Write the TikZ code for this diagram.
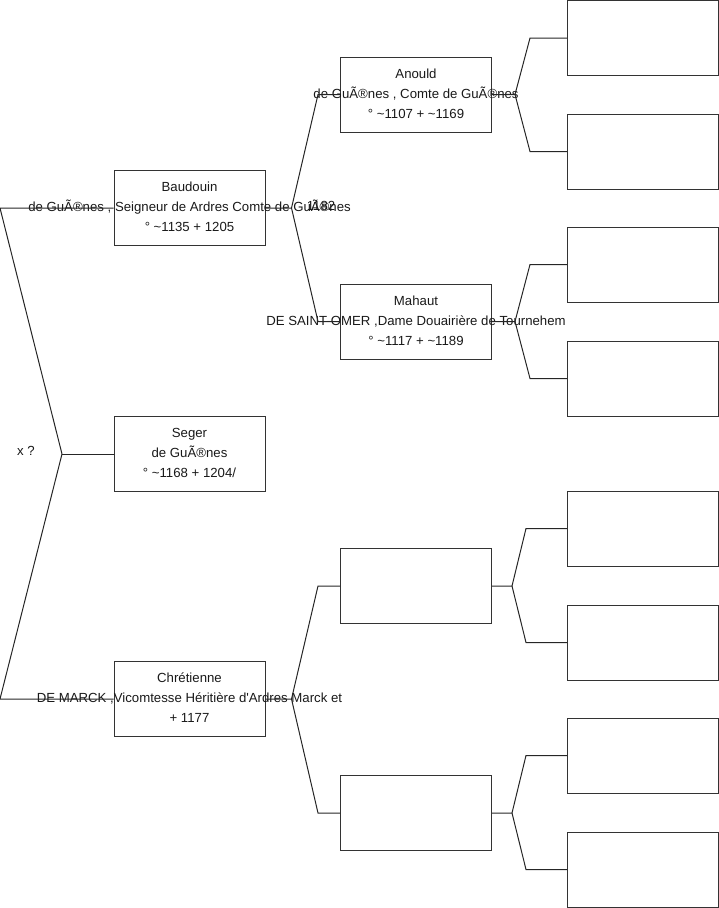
\documentclass[tikz,border=0pt]{standalone}
\usepackage{fontspec}
\setmainfont{Liberation Sans}
\usetikzlibrary{calc,positioning}

\begin{document}
\begin{tikzpicture}[
  x=1pt, y=-1pt,
  box/.style={draw=black!80, line width=1pt, minimum width=151pt, minimum height=75pt, inner sep=0pt},
  txt/.style={align=center, inner sep=0pt, text=black!90, font=\fontsize{13.2}{20}\selectfont},
  lnk/.style={draw=black!85, line width=1pt}
]
\useasboundingbox (0,0) rectangle (719,908);
% generation 1
\node[box] (baud) at (189.5,208) {};
\node[box] (seger) at (189.5,454) {};
\node[box] (chret) at (189.5,699) {};
% generation 2
\node[box] (anould) at (416,94.5) {};
\node[box] (mahaut) at (416,321.5) {};
\node[box] (chfa) at (416,586) {};
\node[box] (chmo) at (416,813) {};
% generation 3
\node[box] (an1) at (643,38) {};
\node[box] (an2) at (643,151.5) {};
\node[box] (ma1) at (643,264.5) {};
\node[box] (ma2) at (643,378.5) {};
\node[box] (cf1) at (643,528.5) {};
\node[box] (cf2) at (643,642.5) {};
\node[box] (cm1) at (643,755.5) {};
\node[box] (cm2) at (643,869.5) {};
% texts
\node[txt] (baudt) at ([yshift=1pt]baud) {Baudouin\\de GuÃ®nes , Seigneur de Ardres Comte de GuÃ®nes\\° \textasciitilde1135 + 1205};
\node[txt] (segert) at ([yshift=1pt]seger) {Seger\\de GuÃ®nes\\° \textasciitilde1168 + 1204/};
\node[txt] (chrett) at ([yshift=1pt]chret) {Chrétienne\\DE MARCK ,Vicomtesse Héritière d\textquotesingle Ardres Marck et\\+ 1177};
\node[txt] (anouldt) at ([yshift=1pt]anould) {Anould\\de GuÃ®nes , Comte de GuÃ®nes\\° \textasciitilde1107 + \textasciitilde1169};
\node[txt] (mahautt) at ([yshift=1pt]mahaut) {Mahaut\\DE SAINT-OMER ,Dame Douairière de Tournehem\\° \textasciitilde1117 + \textasciitilde1189};
\node[txt] (baudx) at (321,206) {1182};
% union of generation 1
\coordinate (xq) at (62,454);
\coordinate (xtop) at (0,208);
\coordinate (xbot) at (0,699);
\node[txt] (xqt) at (26,451) {x ?};
\draw[lnk] (seger.west) -- (xq);
\draw[lnk] (xq) -- (xtop) -- (baud.west);
\draw[lnk] (xq) -- (xbot) -- (chret.west);
% parents
\draw[lnk] (baud.east) -- ++(26,0) coordinate (fb) -- ([xshift=-22pt]anould.west) -- (anould.west);
\draw[lnk] (fb) -- ([xshift=-22pt]mahaut.west) -- (mahaut.west);
\draw[lnk] (chret.east) -- ++(26,0) coordinate (fc) -- ([xshift=-22pt]chfa.west) -- (chfa.west);
\draw[lnk] (fc) -- ([xshift=-22pt]chmo.west) -- (chmo.west);
% grandparents
\draw[lnk] (anould.east) -- ++(23,0) coordinate (fa) -- ([xshift=-37pt]an1.west) -- (an1.west);
\draw[lnk] (fa) -- ([xshift=-37pt]an2.west) -- (an2.west);
\draw[lnk] (mahaut.east) -- ++(23,0) coordinate (fm) -- ([xshift=-37pt]ma1.west) -- (ma1.west);
\draw[lnk] (fm) -- ([xshift=-37pt]ma2.west) -- (ma2.west);
\draw[lnk] (chfa.east) -- ++(20,0) coordinate (ff) -- ([xshift=-41pt]cf1.west) -- (cf1.west);
\draw[lnk] (ff) -- ([xshift=-41pt]cf2.west) -- (cf2.west);
\draw[lnk] (chmo.east) -- ++(20,0) coordinate (fo) -- ([xshift=-41pt]cm1.west) -- (cm1.west);
\draw[lnk] (fo) -- ([xshift=-41pt]cm2.west) -- (cm2.west);
\end{tikzpicture}
\end{document}
